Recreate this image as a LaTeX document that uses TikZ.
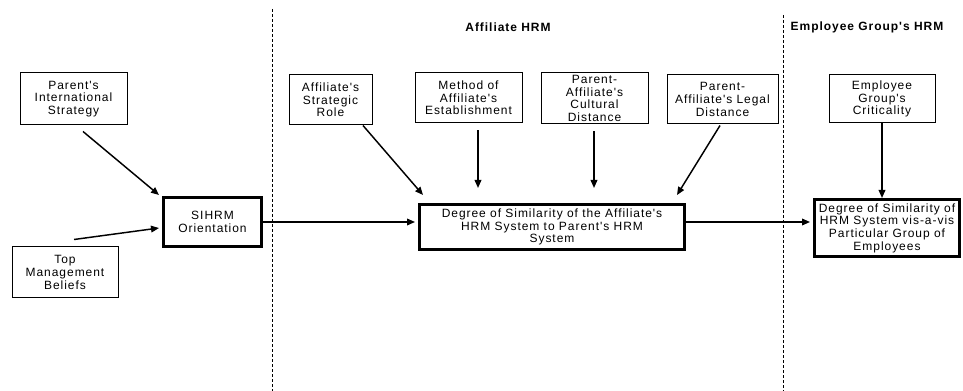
\documentclass[tikz,border=0pt]{standalone}
\usepackage{fontspec}
\setmainfont[LetterSpace=8,Ligatures=TeXOff]{Liberation Sans}
\usetikzlibrary{arrows.meta,calc}

\begin{document}
\begin{tikzpicture}[x=0.75pt,y=-0.75pt,
  every node/.style={font=\fontsize{9pt}{9.5pt}\selectfont, align=center, inner sep=0pt},
  box/.style={draw, line width=0.75pt},
  keybox/.style={draw, line width=2.25pt},
  arr/.style={line width=1.1pt, -{Triangle[length=6pt,width=5pt]}},
  divider/.style={line width=0.75pt, dash pattern=on 2.25pt off 1.5pt},
  heading/.style={font=\fontsize{9pt}{9.5pt}\selectfont\bfseries}]

\useasboundingbox (0,0) rectangle (963,391);

% section dividers
\coordinate (d1top) at (272,9);
\coordinate (d1bot) at (272,391);
\coordinate (d2top) at (783,15);
\coordinate (d2bot) at (783,391);
\draw[divider] (d1top) -- (d1bot);
\draw[divider] (d2top) -- (d2bot);

% section headings
\node[heading] (affhrm) at (508,27) {Affiliate HRM};
\node[heading] (emphrm) at (867,27) {Employee Group's HRM};

% antecedent boxes
\node[box, minimum width=80.25pt, minimum height=39pt] (pis) at (73.5,99)
  {Parent's\\International\\Strategy};
\node[box, minimum width=79.5pt, minimum height=38.25pt] (tmb) at (65,272.5)
  {Top\\Management\\Beliefs};
\node[box, minimum width=62.25pt, minimum height=37.5pt] (asr) at (330.5,100)
  {Affiliate's\\Strategic\\Role};
\node[box, minimum width=80.25pt, minimum height=37.5pt] (mae) at (468.5,98)
  {Method of\\Affiliate's\\Establishment};
\node[box, minimum width=80.25pt, minimum height=38.25pt] (pacd) at (594.5,98.5)
  {Parent-\\Affiliate's\\Cultural\\Distance};
\node[box, minimum width=83.25pt, minimum height=36.75pt] (pald) at (722.5,99.5)
  {Parent-\\Affiliate's Legal\\Distance};
\node[box, minimum width=79.5pt, minimum height=36pt] (egc) at (882,99)
  {Employee\\Group's\\Criticality};

% outcome boxes
\node[keybox, minimum width=73.5pt, minimum height=36.75pt] (sihrm) at (212.5,222)
  {SIHRM\\Orientation};
\node[keybox, minimum width=198.75pt, minimum height=33.75pt] (central) at (552,227)
  {Degree of Similarity of the Affiliate's\\HRM System to Parent's HRM\\System};
\node[keybox, minimum width=108.75pt, minimum height=42.75pt] (grp) at (887,228)
  {Degree of Similarity of\\HRM System vis-a-vis\\Particular Group of\\Employees};

% connectors into SIHRM orientation
\draw[arr] ([shift={(9.5,6)}]pis.south) -- ([shift={(-3,-1)}]sihrm.north west);
\draw[arr] ([shift={(9,-7)}]tmb.north) -- ([shift={(-3,6)}]sihrm.west);

% connectors into the affiliate HRM similarity
\draw[arr] (sihrm.east) -- ([shift={(-3,-5)}]central.west);
\draw[arr] ([shift={(32.5,0)}]asr.south) -- ([shift={(5,-8)}]central.north west);
\coordinate (m1) at ($(mae.south)+(9.5,7)$);
\coordinate (m2) at ($(pacd.south)+(-0.5,7)$);
\draw[arr, shorten >=11.25pt] (m1) -- (m1 |- central.north);
\draw[arr, shorten >=11.25pt] (m2) -- (m2 |- central.north);
\draw[arr] ([shift={(-2.5,1)}]pald.south) -- ([shift={(-9,-8)}]central.north east);

% connectors into the employee group similarity
\draw[arr] ([shift={(0,-5)}]central.east) -- ([shift={(-3,-6)}]grp.west);
\draw[arr] (egc.south) -- (egc.south |- grp.north);

\end{tikzpicture}
\end{document}
